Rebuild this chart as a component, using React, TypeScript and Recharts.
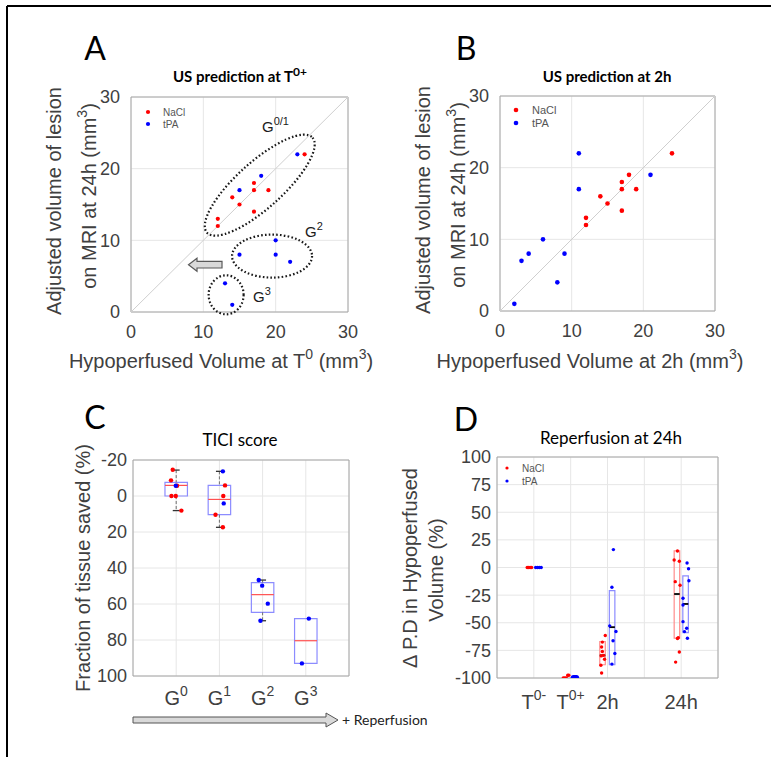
import React from 'react';
import {
  ComposedChart,
  Scatter,
  XAxis,
  YAxis,
  CartesianGrid,
  ReferenceLine,
  ReferenceArea,
  ReferenceDot,
} from 'recharts';

// A: US prediction at T0+  (x = hypoperfused volume at T0, y = lesion volume at 24h)
const aNaclX = [24, 17, 17, 19, 14, 15, 17, 12, 12];
const aNaclY = [22, 18, 17, 17, 16, 15, 14, 13, 12];
const aTpaX = [23, 18, 15, 20, 15, 20, 22, 13, 14];
const aTpaY = [22, 19, 17, 10, 8, 8, 7, 4, 1];

// B: US prediction at 2h
const bNaclX = [24, 18, 17, 17, 19, 14, 15, 17, 12, 12];
const bNaclY = [22, 19, 18, 17, 17, 16, 15, 14, 13, 12];
const bTpaX = [11, 21, 11, 6, 4, 9, 3, 8, 2];
const bTpaY = [22, 19, 17, 10, 8, 8, 7, 4, 1];

const volTicks = [0, 10, 20, 30];

// C: TICI score, fraction of tissue saved (%)
const ticiGroups = ['0', '1', '2', '3'];
const ticiQ1 = [-7.6, -5.9, 48.1, 68.1];
const ticiMedian = [-5.9, 1.9, 54.8, 80.4];
const ticiQ3 = [0, 10.4, 64.6, 93];
const ticiLow = [-14.4, -13.7, 46.7, 68.1];
const ticiHigh = [8.1, 17.4, 69.3, 93];
const ticiNaclX = [0.92, 0.88, 1.02, 0.89, 0.99, 1.12, 2.13, 2.09, 1.91, 2.08];
const ticiNaclY = [-14.6, -8.7, -5.7, 0, 0, 8.1, -5.9, 0, 10.4, 17.4];
const ticiTpaX = [0.99, 2.08, 2.1, 2.91, 2.99, 3.12, 2.95, 4.07, 3.91];
const ticiTpaY = [-5.7, -13.7, 4.1, 46.7, 49.8, 59.8, 69.3, 68.1, 93];
const ticiTicks = [-20, 0, 20, 40, 60, 80, 100];

// D: reperfusion at 24h, delta P.D in hypoperfused volume (%)
const timeTicks = [1, 2, 3, 4, 5];
const timeBase = ['T', 'T', '2h', '', '24h'];
const timeSup = ['0-', '0+', '', '', ''];
const pdTicks = [-100, -75, -50, -25, 0, 25, 50, 75, 100];

const pdNaclX = [0.82, 0.86, 0.9, 0.94, 1.8, 1.84, 1.88, 1.92, 1.95,
  2.94, 2.86, 2.84, 2.86, 2.89, 2.83, 2.92, 2.82, 2.84,
  4.9, 4.81, 4.95, 4.84, 4.97, 4.9, 4.92, 4.95, 4.85];
const pdNaclY = [0, 0, 0, 0, -100, -100, -100, -97.5, -97.5,
  -61.5, -67.5, -72, -76, -79.5, -80, -83, -88.5, -95.5,
  14.9, 6.8, 5.6, -12.8, -16.1, -64.2, -63.5, -76.5, -85.6];
const pdTpaX = [1.05, 1.1, 1.15, 1.2,
  3.16, 3.12, 3.06, 3.23, 3.15, 3.2, 3.12,
  5.16, 5.2, 5.21, 5.05, 5.05, 5.05, 5.15, 5.09, 5.17];
const pdTpaY = [0, 0, 0, 0,
  16.2, -17.9, -52.8, -57.9, -66.3, -77.8, -87.4,
  4.1, -1.1, -12, -27.8, -34, -49, -55, -58, -64];
const pdTpaT0X = [2.08, 2.12, 2.15];
const pdTpaT0Y = [-100, -100, -100];

const pdNaclBox = [2.865, 4.885];
const pdNaclQ1 = [-88, -64];
const pdNaclQ3 = [-67, 15];
const pdNaclMed = [-79.5, -24];
const pdTpaBox = [3.125, 5.12];
const pdTpaQ1 = [-88, -59];
const pdTpaQ3 = [-21, -7.5];
const pdTpaMed = [-54, -33];

const AX = '"Liberation Sans", Arial, sans-serif';
const HUM = 'Lato, "Open Sans", sans-serif';
const INK = '#404040';
const GRID = '#e6e6e6';
const EDGE = '#a6a6a6';
const RED = '#ff0000';
const BLUE = '#0000ff';

type Rect = { l: number; t: number; r: number; b: number };
const rectA: Rect = { l: 131, t: 97, r: 348, b: 312 };
const rectB: Rect = { l: 500, t: 96, r: 715, b: 311 };
const rectC: Rect = { l: 133, t: 460, r: 349, b: 676 };
const rectD: Rect = { l: 497, t: 457, r: 718, b: 678 };
const PAD = { left: 100, top: 60, right: 40, bottom: 60 };
const Y_W = 50;
const X_H = 40;

const zip = (xs: number[], ys: number[]) => xs.map((x, i) => ({ x, y: ys[i] }));
const dot = (color: string, r: number) => (p: any) => <circle cx={p.cx} cy={p.cy} r={r} fill={color} />;

const xProps = (domain: number[], ticks: number[], margin: number, size: number) => ({
  type: 'number' as const, dataKey: 'x', domain, ticks, interval: 0 as const, height: X_H,
  axisLine: false, tickLine: false, tickSize: 0, tickMargin: margin, allowDataOverflow: true,
  tick: { fontSize: size, fill: INK, fontFamily: AX },
});
const yProps = (domain: number[], ticks: number[], margin: number, size: number) => ({
  type: 'number' as const, dataKey: 'y', domain, ticks, interval: 0 as const, width: Y_W,
  axisLine: false, tickLine: false, tickSize: 0, tickMargin: margin, allowDataOverflow: true,
  tick: { fontSize: size, fill: INK, fontFamily: AX },
});

function Plot({ rect, children }: { rect: Rect; children: React.ReactNode }) {
  return (
    <div style={{ position: 'absolute', left: rect.l - PAD.left, top: rect.t - PAD.top }}>
      <ComposedChart
        width={rect.r - rect.l + PAD.left + PAD.right}
        height={rect.b - rect.t + PAD.top + PAD.bottom}
        margin={{ left: PAD.left - Y_W, top: PAD.top, right: PAD.right, bottom: PAD.bottom - X_H }}
      >
        {children}
      </ComposedChart>
    </div>
  );
}

const ellipse = (rx: number, ry: number, angle: number) => (p: any) => (
  <ellipse cx={p.cx} cy={p.cy} rx={rx} ry={ry} transform={`rotate(${angle} ${p.cx} ${p.cy})`}
    fill="none" stroke="#1a1a1a" strokeWidth={2.2} strokeDasharray="1.6 2.2" />
);

const leftArrow = (p: any) => {
  const { cx, cy } = p;
  const pts = [[-17, 0], [-8.5, -6.5], [-8.5, -3.3], [16.5, -3.3], [16.5, 3.3], [-8.5, 3.3], [-8.5, 6.5]]
    .map(([dx, dy]) => `${cx + dx},${cy + dy}`).join(' ');
  return <polygon points={pts} fill="#d9d9d9" stroke="#595959" strokeWidth={1.2} />;
};

const GTick = (props: any) => {
  const { x, y, payload } = props;
  const i = payload.value - 1;
  return (
    <text x={x} y={y + 29} textAnchor="middle" fontFamily={AX} fontSize={20} fill={INK}>
      G<tspan dy={-9} fontSize={14}>{ticiGroups[i]}</tspan>
    </text>
  );
};

const TimeTick = (props: any) => {
  const { x, y, payload } = props;
  const i = timeTicks.indexOf(payload.value);
  if (i < 0 || !timeBase[i]) return <g />;
  return (
    <text x={x} y={y + 31} textAnchor="middle" fontFamily={AX} fontSize={20} fill={INK}>
      {timeBase[i]}
      {timeSup[i] ? <tspan dy={-9} fontSize={14}>{timeSup[i]}</tspan> : null}
    </text>
  );
};

function PanelA() {
  return (
    <Plot rect={rectA}>
      <CartesianGrid stroke={GRID} />
      <XAxis {...xProps([0, 30], volTicks, 13, 18)} />
      <YAxis {...yProps([0, 30], volTicks, 11, 18)} />
      <ReferenceArea x1={0} x2={30} y1={0} y2={30} fill="none" stroke={EDGE} />
      <ReferenceLine segment={[{ x: 0, y: 0 }, { x: 30, y: 30 }]} stroke="#cfcfcf" />
      <ReferenceDot x={17.8} y={17.7} r={0} shape={ellipse(71, 23, -42)} />
      <ReferenceDot x={19.5} y={7.8} r={0} shape={ellipse(40, 21.5, 0)} />
      <ReferenceDot x={13.15} y={2.4} r={0} shape={ellipse(17.5, 19.5, 0)} />
      <ReferenceDot x={10.3} y={6.6} r={0} shape={leftArrow} />
      <Scatter data={zip(aNaclX, aNaclY)} fill={RED} shape={dot(RED, 2.1)} isAnimationActive={false} />
      <Scatter data={zip(aTpaX, aTpaY)} fill={BLUE} shape={dot(BLUE, 2.1)} isAnimationActive={false} />
    </Plot>
  );
}

function PanelB() {
  return (
    <Plot rect={rectB}>
      <CartesianGrid stroke={GRID} />
      <XAxis {...xProps([0, 30], volTicks, 13, 18)} />
      <YAxis {...yProps([0, 30], volTicks, 11, 18)} />
      <ReferenceArea x1={0} x2={30} y1={0} y2={30} fill="none" stroke={EDGE} />
      <ReferenceLine segment={[{ x: 0, y: 0 }, { x: 30, y: 30 }]} stroke="#cfcfcf" />
      <Scatter data={zip(bNaclX, bNaclY)} fill={RED} shape={dot(RED, 2.3)} isAnimationActive={false} />
      <Scatter data={zip(bTpaX, bTpaY)} fill={BLUE} shape={dot(BLUE, 2.3)} isAnimationActive={false} />
    </Plot>
  );
}

function PanelC() {
  return (
    <Plot rect={rectC}>
      <CartesianGrid stroke={GRID} />
      <XAxis {...xProps([0, 5], [1, 2, 3, 4], 0, 20)} tick={<GTick />} />
      <YAxis {...yProps([-20, 100], ticiTicks, 6, 18)} reversed />
      <ReferenceArea x1={0} x2={5} y1={-20} y2={100} fill="none" stroke={EDGE} />
      {ticiGroups.map((g, i) => {
        const x = i + 1;
        const parts = [
          <ReferenceArea key={`b${g}`} x1={x - 0.26} x2={x + 0.26} y1={ticiQ1[i]} y2={ticiQ3[i]}
            fill="none" stroke="#8c8cff" strokeWidth={1.2} />,
          <ReferenceLine key={`m${g}`} segment={[{ x: x - 0.26, y: ticiMedian[i] }, { x: x + 0.26, y: ticiMedian[i] }]}
            stroke="#ff5050" strokeWidth={1.2} />,
        ];
        if (ticiLow[i] < ticiQ1[i]) {
          parts.push(
            <ReferenceLine key={`wl${g}`} segment={[{ x, y: ticiLow[i] }, { x, y: ticiQ1[i] }]}
              stroke="#707070" strokeDasharray="3 2" />,
            <ReferenceLine key={`cl${g}`} segment={[{ x: x - 0.08, y: ticiLow[i] }, { x: x + 0.08, y: ticiLow[i] }]}
              stroke="#333" strokeWidth={1.3} />,
          );
        }
        if (ticiHigh[i] > ticiQ3[i]) {
          parts.push(
            <ReferenceLine key={`wh${g}`} segment={[{ x, y: ticiQ3[i] }, { x, y: ticiHigh[i] }]}
              stroke="#707070" strokeDasharray="3 2" />,
            <ReferenceLine key={`ch${g}`} segment={[{ x: x - 0.08, y: ticiHigh[i] }, { x: x + 0.08, y: ticiHigh[i] }]}
              stroke="#333" strokeWidth={1.3} />,
          );
        }
        return parts;
      })}
      <Scatter data={zip(ticiNaclX, ticiNaclY)} fill={RED} shape={dot(RED, 2.2)} isAnimationActive={false} />
      <Scatter data={zip(ticiTpaX, ticiTpaY)} fill={BLUE} shape={dot(BLUE, 2.2)} isAnimationActive={false} />
    </Plot>
  );
}

function PanelD() {
  const boxes = (pos: number[], q1: number[], q3: number[], med: number[], color: string, tag: string) =>
    pos.map((x, i) => [
      <ReferenceArea key={`${tag}b${i}`} x1={x - 0.075} x2={x + 0.075} y1={q1[i]} y2={q3[i]}
        fill="none" stroke={color} strokeWidth={1.2} />,
      <ReferenceLine key={`${tag}m${i}`} segment={[{ x: x - 0.075, y: med[i] }, { x: x + 0.075, y: med[i] }]}
        stroke="#000" strokeWidth={1.8} />,
    ]);
  return (
    <Plot rect={rectD}>
      <CartesianGrid stroke={GRID} />
      <XAxis {...xProps([0, 6], timeTicks, 0, 20)} tick={<TimeTick />} />
      <YAxis {...yProps([-100, 100], pdTicks, 6, 18)} />
      <ReferenceArea x1={0} x2={6} y1={-100} y2={100} fill="none" stroke={EDGE} />
      {boxes(pdNaclBox, pdNaclQ1, pdNaclQ3, pdNaclMed, '#ff8c8c', 'n')}
      {boxes(pdTpaBox, pdTpaQ1, pdTpaQ3, pdTpaMed, '#8c8cff', 't')}
      <Scatter data={zip(pdNaclX, pdNaclY)} fill={RED} shape={dot(RED, 1.7)} isAnimationActive={false} />
      <Scatter data={zip(pdTpaX, pdTpaY)} fill={BLUE} shape={dot(BLUE, 1.7)} isAnimationActive={false} />
      <Scatter data={zip(pdTpaT0X, pdTpaT0Y)} fill={BLUE} shape={dot(BLUE, 3)} isAnimationActive={false} />
    </Plot>
  );
}

function Overlay() {
  const axisText = { fontFamily: AX, fontSize: 20, fill: INK };
  return (
    <svg width={771} height={757} style={{ position: 'absolute', left: 0, top: 0, pointerEvents: 'none' }}>
      <line x1={7} y1={6} x2={771} y2={6} stroke="#000" strokeWidth={2} />
      <line x1={7} y1={6} x2={7} y2={757} stroke="#000" strokeWidth={2} />

      <g fontFamily={HUM} fontSize={32} fill="#000" textAnchor="middle">
        <text x={95} y={60}>A</text>
        <text x={466} y={60}>B</text>
        <text x={95} y={429}>C</text>
        <text x={466} y={431}>D</text>
      </g>

      <text x={240} y={82} textAnchor="middle" fontFamily={HUM} fontWeight={700} fontSize={15}>
        US prediction at T<tspan dy={-6} fontSize={12}>0+</tspan>
      </text>
      <text x={607} y={82} textAnchor="middle" fontFamily={HUM} fontWeight={700} fontSize={15}>
        US prediction at 2h
      </text>
      <text x={240} y={446} textAnchor="middle" fontFamily={HUM} fontSize={17}>TICI score</text>
      <text x={611} y={444} textAnchor="middle" fontFamily={HUM} fontSize={17}>Reperfusion at 24h</text>

      <text {...axisText} textAnchor="middle" transform="translate(61,201) rotate(-90)">Adjusted volume of lesion</text>
      <text {...axisText} textAnchor="middle" transform="translate(96,196) rotate(-90)">
        on MRI at 24h (mm<tspan dy={-9} fontSize={14}>3</tspan><tspan dy={9}>)</tspan>
      </text>
      <text {...axisText} textAnchor="middle" x={221} y={368}>
        Hypoperfused Volume at T<tspan dy={-9} fontSize={14}>0</tspan><tspan dy={9}> (mm</tspan>
        <tspan dy={-9} fontSize={14}>3</tspan><tspan dy={9}>)</tspan>
      </text>

      <text {...axisText} textAnchor="middle" transform="translate(430,200) rotate(-90)">Adjusted volume of lesion</text>
      <text {...axisText} textAnchor="middle" transform="translate(465,195) rotate(-90)">
        on MRI at 24h (mm<tspan dy={-9} fontSize={14}>3</tspan><tspan dy={9}>)</tspan>
      </text>
      <text {...axisText} textAnchor="middle" x={590} y={368}>
        Hypoperfused Volume at 2h (mm<tspan dy={-9} fontSize={14}>3</tspan><tspan dy={9}>)</tspan>
      </text>

      <text {...axisText} textAnchor="middle" transform="translate(90,568) rotate(-90)">Fraction of tissue saved (%)</text>
      <text {...axisText} textAnchor="middle" transform="translate(417,568) rotate(-90)">Δ P.D in Hypoperfused</text>
      <text {...axisText} textAnchor="middle" transform="translate(443,570) rotate(-90)">Volume (%)</text>

      <g fontFamily={AX} fill="#555">
        <circle cx={148} cy={112} r={2.1} fill={RED} />
        <text x={163} y={115.5} fontSize={10}>NaCl</text>
        <circle cx={148} cy={124} r={2.1} fill={BLUE} />
        <text x={163} y={127.5} fontSize={10}>tPA</text>

        <circle cx={516} cy={110} r={2.3} fill={RED} />
        <text x={532} y={114} fontSize={11}>NaCl</text>
        <circle cx={516} cy={123} r={2.3} fill={BLUE} />
        <text x={532} y={127} fontSize={11}>tPA</text>

        <circle cx={507} cy={468} r={1.6} fill={RED} />
        <text x={522} y={471.5} fontSize={10}>NaCl</text>
        <circle cx={507} cy={481} r={1.6} fill={BLUE} />
        <text x={522} y={484.5} fontSize={10}>tPA</text>
      </g>

      <g fontFamily={AX} fontSize={15} fill="#1a1a1a">
        <text x={262} y={132}>G<tspan dy={-7} fontSize={11}>0/1</tspan></text>
        <text x={305} y={237}>G<tspan dy={-7} fontSize={11}>2</tspan></text>
        <text x={253} y={302}>G<tspan dy={-7} fontSize={11}>3</tspan></text>
      </g>

      <polygon points="133,717 326,717 326,713 338,720 326,727 326,723 133,723"
        fill="#d9d9d9" stroke="#555" strokeWidth={1} />
      <text x={342} y={725} fontFamily={HUM} fontSize={14} fill="#222">+ Reperfusion</text>
    </svg>
  );
}

export default function App() {
  return (
    <div style={{ position: 'absolute', left: 0, top: 0, width: 771, height: 757, background: '#fff', overflow: 'hidden' }}>
      <PanelA />
      <PanelB />
      <PanelC />
      <PanelD />
      <Overlay />
    </div>
  );
}
